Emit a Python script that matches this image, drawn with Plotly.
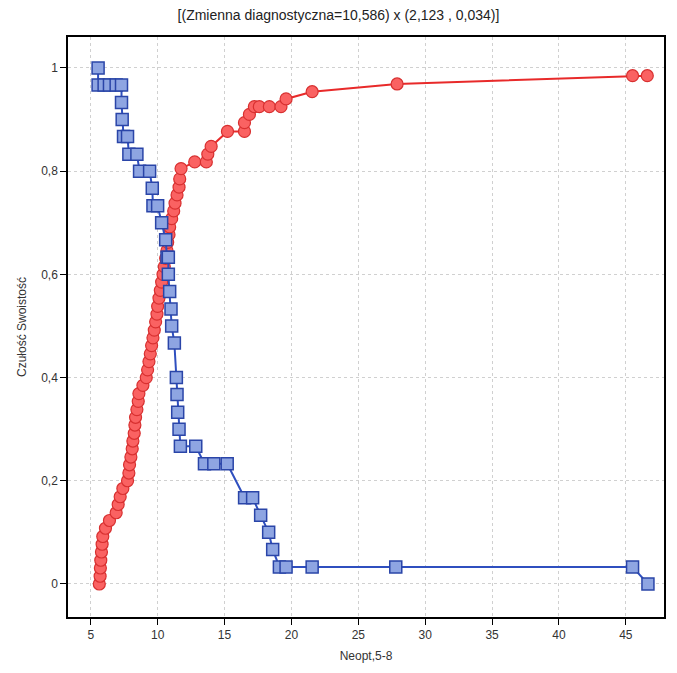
import plotly.graph_objects as go

# Red series (circles)
red_x = [5.64, 5.70, 5.72, 5.75, 5.80, 5.85, 5.90, 6.10, 6.40, 6.90, 7.05, 7.20, 7.40,
         7.75, 7.85, 7.90, 8.00, 8.10, 8.15, 8.25, 8.30, 8.35, 8.45, 8.55, 8.60, 8.90,
         9.15, 9.25, 9.35, 9.45, 9.55, 9.65, 9.75, 9.85, 9.95, 10.00, 10.10, 10.20, 10.30,
         10.40, 10.50, 10.60, 10.70, 10.75, 10.85, 10.90, 11.05, 11.20, 11.30, 11.45, 11.60,
         11.65, 11.75, 12.77, 13.64, 13.75, 14.00, 15.22, 16.49, 16.49, 16.86, 17.23, 17.60,
         18.35, 19.22, 19.60, 21.55, 27.90, 45.50, 46.60]
red_y = [0.000, 0.015, 0.031, 0.046, 0.062, 0.077, 0.092, 0.108, 0.123, 0.138, 0.154, 0.169,
         0.185, 0.200, 0.215, 0.231, 0.246, 0.262, 0.277, 0.292, 0.308, 0.323, 0.338, 0.354,
         0.369, 0.385, 0.400, 0.415, 0.431, 0.446, 0.462, 0.477, 0.492, 0.508, 0.523, 0.538,
         0.554, 0.569, 0.585, 0.600, 0.615, 0.631, 0.646, 0.662, 0.677, 0.692, 0.708, 0.723,
         0.738, 0.754, 0.769, 0.785, 0.805, 0.818, 0.818, 0.833, 0.848, 0.877, 0.877, 0.894,
         0.910, 0.925, 0.925, 0.925, 0.925, 0.940, 0.954, 0.969, 0.985, 0.985]

# Blue series (squares)
blue_x = [5.55, 5.55, 6.00, 6.40, 6.90, 7.30, 7.30, 7.35, 7.45, 7.75, 7.85, 8.45, 8.65, 9.40,
          9.60, 9.65, 10.00, 10.30, 10.60, 10.70, 10.80, 10.80, 10.90, 11.00, 11.05, 11.25,
          11.40, 11.45, 11.50, 11.60, 11.70, 12.85, 13.50, 14.20, 15.20, 16.50, 17.10, 17.70,
          18.30, 18.60, 19.10, 19.60, 21.55, 27.80, 45.50, 46.65]
blue_y = [1.000, 0.967, 0.967, 0.967, 0.967, 0.967, 0.933, 0.900, 0.867, 0.867, 0.833, 0.833,
          0.800, 0.800, 0.767, 0.733, 0.733, 0.700, 0.667, 0.633, 0.633, 0.600, 0.567, 0.533,
          0.500, 0.467, 0.400, 0.367, 0.333, 0.300, 0.267, 0.267, 0.233, 0.233, 0.233, 0.167,
          0.167, 0.133, 0.100, 0.067, 0.033, 0.033, 0.033, 0.033, 0.033, 0.000]

x_ticks = [5, 10, 15, 20, 25, 30, 35, 40, 45]
y_ticks = [0, 0.2, 0.4, 0.6, 0.8, 1]

title_text = "[(Zmienna diagnostyczna=10,586) x (2,123 , 0,034)]"
x_title = "Neopt,5-8"
y_title = "Czułość Swoistość"

fig = go.Figure()
fig.add_trace(go.Scatter(
    x=red_x, y=red_y, mode="lines+markers",
    line=dict(color="#e82a2a", width=2),
    marker=dict(symbol="circle", size=12, color="#fa6262",
                line=dict(color="#d83030", width=1.2)),
    showlegend=False))
fig.add_trace(go.Scatter(
    x=blue_x, y=blue_y, mode="lines+markers",
    line=dict(color="#2f4fbf", width=2),
    marker=dict(symbol="square", size=12, color="#8ea5e2",
                line=dict(color="#2a45a8", width=1.5)),
    showlegend=False))

fig.update_layout(
    width=677, height=673,
    margin=dict(l=68, r=11, t=37, b=56),
    paper_bgcolor="white", plot_bgcolor="white",
    separators=", ",
    font=dict(family="Liberation Sans, Arial, sans-serif", size=12, color="#333333"),
    title=dict(text=title_text, x=0.5, xanchor="center", y=0.985, yanchor="top",
               font=dict(size=14, color="#222222")),
)
fig.update_xaxes(
    range=[3.3, 47.85], tickvals=x_ticks, ticks="outside", ticklen=6,
    tickcolor="black", showline=True, linecolor="black", linewidth=1.5, mirror=True,
    showgrid=True, gridcolor="#d0d0d0", griddash="dot", gridwidth=1, zeroline=False,
    title=dict(text=x_title, standoff=10, font=dict(size=12)),
)
fig.update_yaxes(
    range=[-0.064, 1.06], tickvals=y_ticks, ticks="outside", ticklen=6,
    tickcolor="black", showline=True, linecolor="black", linewidth=1.5, mirror=True,
    showgrid=True, gridcolor="#d0d0d0", griddash="dot", gridwidth=1, zeroline=False,
    title=dict(text=y_title, standoff=12, font=dict(size=12)),
)

fig.write_html("out.html")
